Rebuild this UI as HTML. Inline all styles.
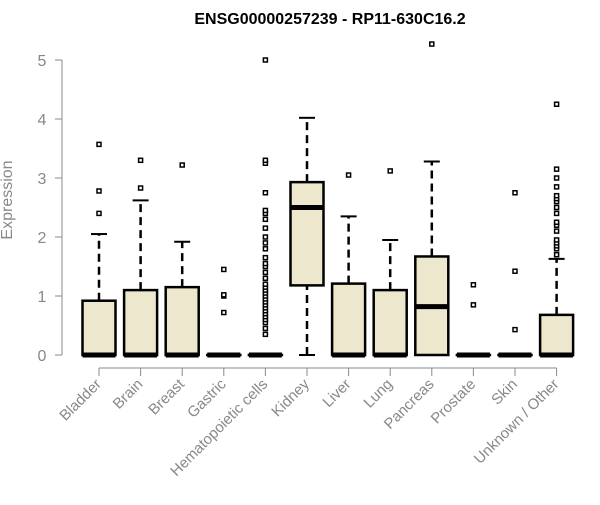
<!DOCTYPE html>
<html><head><meta charset="utf-8"><style>
body{margin:0;background:#fff}
svg text{font-family:"Liberation Sans",Arial,sans-serif}
</style></head><body>
<svg id="c" width="600" height="500">
<text x="330" y="24" text-anchor="middle" font-size="16" font-weight="bold">ENSG00000257239 - RP11-630C16.2</text>
<text transform="translate(12,200) rotate(-90)" text-anchor="middle" font-size="16" fill="#888">Expression</text>
<g id="g"></g>
</svg>
<script>
const categories=["Bladder","Brain","Breast","Gastric","Hematopoietic cells","Kidney","Liver","Lung","Pancreas","Prostate","Skin","Unknown / Other"];
const lowWhisker=[0,0,0,0,0,0,0,0,0,0,0,0];
const q1=[0,0,0,0,0,1.18,0,0,0,0,0,0];
const median=[0,0,0,0,0,2.5,0,0,0.82,0,0,0];
const q3=[0.92,1.1,1.15,0,0,2.93,1.21,1.1,1.67,0,0,0.68];
const highWhisker=[2.05,2.62,1.92,0,0,4.02,2.35,1.95,3.28,0,0,1.63];
const outliers=[[2.4,2.78,3.57],[2.83,3.3],[3.22],[0.72,1.0,1.02,1.45],
[0.35,0.45,0.55,0.6,0.65,0.7,0.75,0.8,0.85,0.9,0.95,1.0,1.05,1.1,1.15,1.2,1.3,1.4,1.5,1.55,1.65,1.8,1.9,2.0,2.15,2.3,2.4,2.45,2.75,3.25,3.3,5.0],
[],[3.05],[3.12],[5.27],[0.85,1.19],[0.43,1.42,2.75],
[1.7,1.8,1.85,1.9,1.95,2.1,2.2,2.25,2.4,2.5,2.6,2.65,2.7,2.85,3.0,3.15,4.25]];
const yTicks=[0,1,2,3,4,5];
const NS="http://www.w3.org/2000/svg";
const g=document.getElementById('g');
const y=v=>355-v*59;
const x=i=>99+i*41.6;
function mk(t,a){const e=document.createElementNS(NS,t);for(const k in a)e.setAttribute(k,a[k]);g.appendChild(e);return e;}
let e=mk('line',{x1:62,x2:62,y1:y(0),y2:y(5),stroke:'#888'});


yTicks.forEach(t=>{
 let l=mk('line',{x1:55,x2:62,y1:y(t),y2:y(t),stroke:'#888'});
 
 
 let tx=mk('text',{x:42,y:y(t)+6,'text-anchor':'middle','font-size':16,fill:'#888'});
 tx.textContent=t;
 
 
});
e=mk('line',{x1:x(0),x2:x(categories.length-1),y1:368,y2:368,stroke:'#888'});


const hw=16.5;
categories.forEach((c,i)=>{
 const cx=x(i);
 let t=mk('line',{x1:cx,x2:cx,y1:368,y2:376,stroke:'#888'});
 
 
 let lb=mk('text',{x:cx+3,y:385,'text-anchor':'end','font-size':15,fill:'#888',transform:`rotate(-45 ${cx+3} 385)`});
 lb.textContent=c;
 
 
 if(highWhisker[i]>q3[i]){
  let w=mk('line',{x1:cx,x2:cx,y1:y(q3[i]),y2:y(highWhisker[i]),stroke:'#000','stroke-width':2.5,'stroke-dasharray':'8,5'});
  
  
  let cp=mk('line',{x1:cx-8,x2:cx+8,y1:y(highWhisker[i]),y2:y(highWhisker[i]),stroke:'#000','stroke-width':2});
  
  
 }
 if(q1[i]>lowWhisker[i]){
  let w=mk('line',{x1:cx,x2:cx,y1:y(lowWhisker[i]),y2:y(q1[i]),stroke:'#000','stroke-width':2.5,'stroke-dasharray':'8,5'});
  
  
  let cp=mk('line',{x1:cx-8,x2:cx+8,y1:y(lowWhisker[i]),y2:y(lowWhisker[i]),stroke:'#000','stroke-width':2});
  
  
 }
 let b=mk('rect',{x:cx-hw,y:y(q3[i]),width:2*hw,height:Math.max(0.01,y(q1[i])-y(q3[i])),fill:'#ede8cd',stroke:'#000','stroke-width':2.5});
 
 
 let m=mk('line',{x1:cx-hw,x2:cx+hw,y1:y(median[i]),y2:y(median[i]),stroke:'#000','stroke-width':5});
 
 
 outliers[i].forEach(v=>{
  let p=mk('rect',{x:cx-2,y:y(v)-2,width:4,height:4,fill:'#fff',stroke:'#000','stroke-width':1.5});
  
  
 });
});
</script>
</body></html>
